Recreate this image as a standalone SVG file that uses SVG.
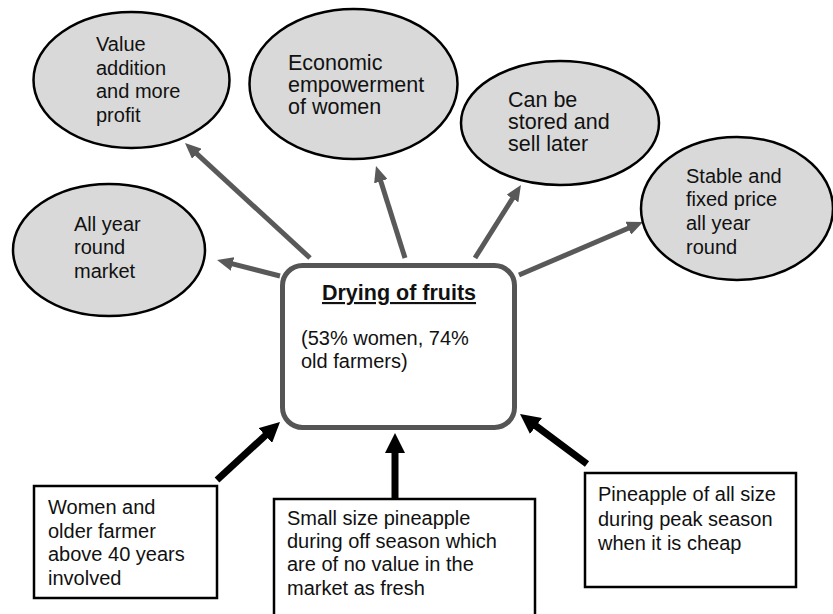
<svg xmlns="http://www.w3.org/2000/svg" width="833" height="614" viewBox="0 0 833 614">
<style>
text{font-family:"Liberation Sans",Arial,sans-serif;font-size:20px;fill:#111}
.big{font-size:21.5px}
.ell{fill:#d9d9d9;stroke:#000;stroke-width:2.5}
.box{fill:#fff;stroke:#000;stroke-width:2.5}
.g{stroke:#595959;stroke-width:5;fill:none;marker-end:url(#ag)}
.b{stroke:#000;stroke-width:7;fill:none;marker-end:url(#ab)}
.title{font-weight:bold;text-decoration:underline;text-anchor:middle;font-size:21.5px}
</style>
<defs>
<marker id="ag" markerUnits="userSpaceOnUse" markerWidth="16" markerHeight="14" refX="5" refY="7" orient="auto"><path d="M0,0 L16,7 L0,14 z" fill="#595959"/></marker>
<marker id="ab" markerUnits="userSpaceOnUse" markerWidth="20" markerHeight="20" refX="6" refY="10" orient="auto"><path d="M0,0 L20,10 L0,20 z" fill="#000"/></marker>
</defs>
<rect width="833" height="614" fill="#fff"/>
<g id="connectors">
<line class="g" x1="280" y1="276" x2="227.7" y2="262.7"/>
<line class="g" x1="310" y1="258" x2="193.1" y2="150.4"/>
<line class="g" x1="405" y1="258" x2="379.3" y2="176.5"/>
<line class="g" x1="475" y1="258" x2="515.1" y2="194.3"/>
<line class="g" x1="519" y1="275" x2="632.9" y2="226.3"/>
<line class="b" x1="217" y1="480" x2="269.7" y2="431.5"/>
<line class="b" x1="395" y1="498" x2="395" y2="447"/>
<line class="b" x1="587" y1="464" x2="531.2" y2="422.4"/>
</g>
<g id="value">
<ellipse class="ell" cx="131.5" cy="80" rx="98" ry="68"/>
<text x="96" y="51">Value</text><text x="96" y="75">addition</text><text x="96" y="98">and more</text><text x="96" y="122">profit</text>
</g>
<g id="economic">
<ellipse class="ell" cx="353.5" cy="84" rx="104" ry="75"/>
<text class="big" x="288" y="70">Economic</text><text class="big" x="288" y="92">empowerment</text><text class="big" x="288" y="114">of women</text>
</g>
<g id="stored">
<ellipse class="ell" cx="560" cy="123" rx="99" ry="62"/>
<text class="big" x="508" y="107">Can be</text><text class="big" x="508" y="129">stored and</text><text class="big" x="508" y="151">sell later</text>
</g>
<g id="stable">
<ellipse class="ell" cx="737" cy="208.5" rx="96" ry="71.5"/>
<text x="686" y="183">Stable and</text><text x="686" y="206">fixed price</text><text x="686" y="230">all year</text><text x="686" y="254">round</text>
</g>
<g id="allyear">
<ellipse class="ell" cx="109" cy="250" rx="96" ry="66"/>
<text x="74" y="231">All year</text><text x="74" y="254">round</text><text x="74" y="278">market</text>
</g>
<g id="drying">
<rect x="282.5" y="265.5" width="232" height="162" rx="20" fill="#fff" stroke="#555" stroke-width="5"/>
<text class="title" x="399" y="300">Drying of fruits</text>
<text x="301" y="345">(53% women, 74%</text><text x="301" y="368">old farmers)</text>
</g>
<g id="women">
<rect class="box" x="34" y="486" width="183" height="112"/>
<text x="48" y="514">Women and</text><text x="48" y="538">older farmer</text><text x="48" y="561">above 40 years</text><text x="48" y="585">involved</text>
</g>
<g id="small">
<rect class="box" x="274" y="499" width="261" height="130"/>
<text x="287" y="525">Small size pineapple</text><text x="287" y="548">during off season which</text><text x="287" y="571">are of no value in the</text><text x="287" y="595">market as fresh</text>
</g>
<g id="peak">
<rect class="box" x="585" y="473" width="211" height="114"/>
<text x="598" y="501">Pineapple of all size</text><text x="598" y="526">during peak season</text><text x="598" y="550">when it is cheap</text>
</g>
</svg>
